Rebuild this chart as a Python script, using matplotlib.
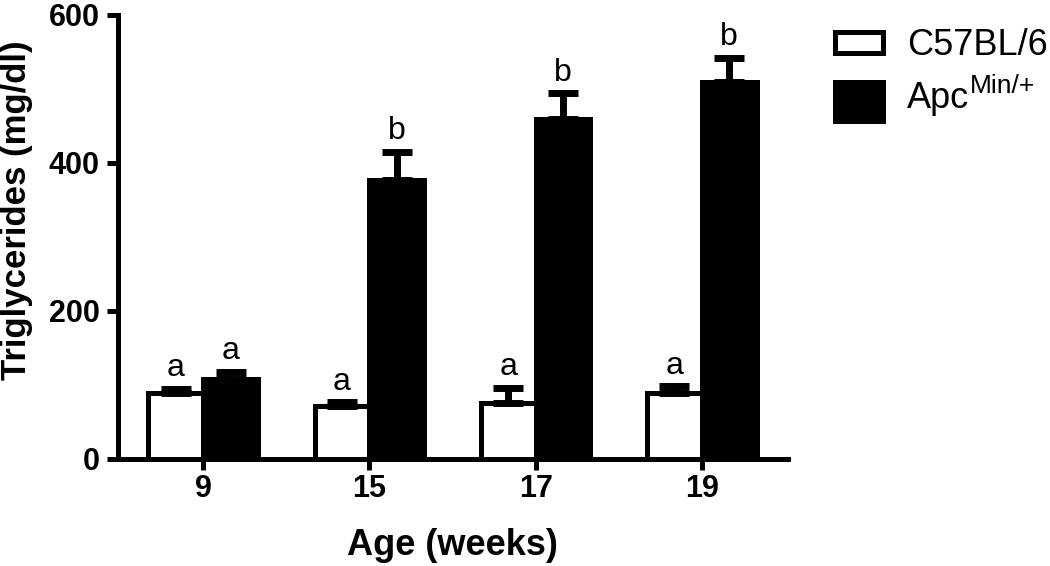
import numpy as np
import matplotlib.pyplot as plt
from matplotlib.patches import Rectangle

plt.rcParams['font.family'] = ['Liberation Sans', 'DejaVu Sans']

# data
ages = ['9', '15', '17', '19']
wt_mean = [89, 71, 76, 89]
wt_err = [6, 6, 20, 9]
min_mean = [108, 377, 459, 510]
min_err = [10, 38, 35, 32]
wt_letters = ['a', 'a', 'a', 'a']
min_letters = ['a', 'b', 'b', 'b']

W, H = 1050, 566
fig = plt.figure(figsize=(W / 100, H / 100), dpi=100)
ax = fig.add_axes([118 / W, 1 - 459 / H, 670 / W, 444 / H])

x = np.arange(len(ages))
bw = 0.33
off = 0.165
lw = 3.6

ax.bar(x - off, wt_mean, bw, color='white', edgecolor='black', linewidth=lw, zorder=2)
ax.bar(x + off, min_mean, bw, color='black', edgecolor='black', linewidth=lw, zorder=2)

# upward error bars only
ax.errorbar(x - off, wt_mean, yerr=[np.zeros(4), wt_err], fmt='none', ecolor='black',
            elinewidth=5, capsize=11, capthick=5, zorder=3)
ax.errorbar(x + off, min_mean, yerr=[np.zeros(4), min_err], fmt='none', ecolor='black',
            elinewidth=5, capsize=11, capthick=5, zorder=3)

# significance letters
for xi, m, e, t in zip(x - off, wt_mean, wt_err, wt_letters):
    ax.annotate(t, (xi, m + e), xytext=(0, 9), textcoords='offset points',
                ha='center', va='baseline', fontsize=23)
for xi, m, e, t in zip(x + off, min_mean, min_err, min_letters):
    ax.annotate(t, (xi, m + e), xytext=(0, 9), textcoords='offset points',
                ha='center', va='baseline', fontsize=23)

ax.set_xlim(-0.512, 3.518)
ax.set_ylim(0, 600)
ax.set_yticks([0, 200, 400, 600])
ax.set_xticks(x)
ax.set_xticklabels(ages)

for s in ['top', 'right']:
    ax.spines[s].set_visible(False)
for s in ['left', 'bottom']:
    ax.spines[s].set_linewidth(lw)
    ax.spines[s].set_capstyle('projecting')

ax.tick_params(axis='both', direction='out', length=8, width=lw, labelsize=22)
ax.tick_params(axis='y', pad=5)
ax.tick_params(axis='x', pad=3)
for lab in ax.get_xticklabels() + ax.get_yticklabels():
    lab.set_fontweight('bold')

fig.text(17 / W, 1 - 210 / H, 'Triglycerides (mg/dl)', rotation=90, ha='center', va='center',
         fontsize=25, fontweight='bold')
fig.text(452 / W, 1 - 555 / H, 'Age (weeks)', ha='center', va='baseline',
         fontsize=26, fontweight='bold')

# legend drawn by hand (to the right of the axes)
fig.add_artist(Rectangle((835 / W, 1 - 53 / H), 48 / W, 21 / H, transform=fig.transFigure,
                         facecolor='white', edgecolor='black', linewidth=lw))
fig.add_artist(Rectangle((835 / W, 1 - 121 / H), 48 / W, 39 / H, transform=fig.transFigure,
                         facecolor='black', edgecolor='black', linewidth=lw))
fig.text(907 / W, 1 - 55 / H, 'C57BL/6', ha='left', va='baseline', fontsize=26)
fig.text(907 / W, 1 - 108 / H, 'Apc', ha='left', va='baseline', fontsize=26)
fig.text(970 / W, 1 - 93 / H, 'Min/+', ha='left', va='baseline', fontsize=19)

fig.savefig('out.png', dpi=100)
